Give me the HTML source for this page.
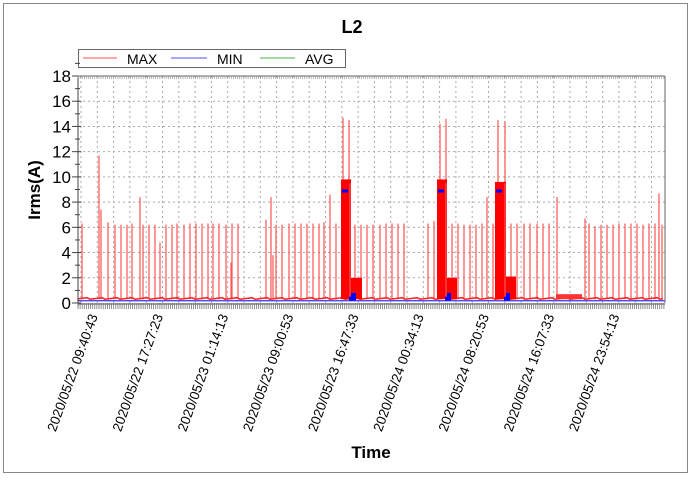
<!DOCTYPE html>
<html><head><style>
body{margin:0;background:#fff;width:691px;height:478px;overflow:hidden;font-family:"Liberation Sans",Arial,sans-serif}
</style></head><body>
<svg id="s" width="691" height="478" xmlns="http://www.w3.org/2000/svg" font-family="Liberation Sans, Arial, sans-serif">
<rect x="0" y="0" width="691" height="478" fill="#fff"/>
<rect x="3.5" y="3.5" width="684" height="469" fill="none" stroke="#888" stroke-width="1"/>
<text x="352" y="33" font-size="18" font-weight="bold" text-anchor="middle">L2</text>
<rect x="78.5" y="49.5" width="267" height="18" fill="#fff" stroke="#666"/>
<line x1="83" y1="58" x2="117" y2="58" stroke="#f88" stroke-width="1.5"/>
<text x="127" y="64" font-size="14">MAX</text>
<line x1="171" y1="58" x2="207" y2="58" stroke="#88f" stroke-width="1.5"/>
<text x="217" y="64" font-size="14">MIN</text>
<line x1="260" y1="58" x2="295" y2="58" stroke="#8c8" stroke-width="1.5"/>
<text x="305" y="64" font-size="14">AVG</text>
<g id="grid"></g>
<g id="data"></g>
<g id="axes"></g>
<text transform="translate(40,190) rotate(-90)" font-size="17" font-weight="bold" text-anchor="middle">Irms(A)</text>
<text x="371" y="458" font-size="17" font-weight="bold" text-anchor="middle">Time</text>
</svg>
<script>
var NS="http://www.w3.org/2000/svg";
function el(p,t,a){var e=document.createElementNS(NS,t);for(var k in a)e.setAttribute(k,a[k]);document.getElementById(p).appendChild(e);return e;}
var L=78,R=665,T=76,B=303;function Y(v){return B-v*(B-T)/18;}
for(var v=2;v<=18;v+=2)el("grid","line",{x1:L,x2:R,y1:Y(v),y2:Y(v),stroke:"#aaa","stroke-dasharray":"2,3","stroke-width":1});
for(var x=81;x<R;x+=16.3)el("grid","line",{x1:x,x2:x,y1:T,y2:B,stroke:"#aaa","stroke-dasharray":"2,3","stroke-width":1});
for(var v=0;v<=18;v+=2){var t=el("axes","text",{x:71,y:Y(v)+6,"font-size":17,"text-anchor":"end"});t.textContent=v;
 el("axes","line",{x1:L-6,x2:L+3,y1:Y(v),y2:Y(v),stroke:"#444"});
 el("axes","line",{x1:L-3,x2:L+2,y1:Y(v+1),y2:Y(v+1),stroke:"#444"});}
el("axes","line",{x1:L,x2:L,y1:T,y2:B+4,stroke:"#444"});
el("axes","line",{x1:R,x2:R,y1:T,y2:B,stroke:"#666"});
el("axes","line",{x1:L,x2:R,y1:T,y2:T,stroke:"#666"});
el("axes","line",{x1:L,x2:R,y1:B+1,y2:B+1,stroke:"#444"});
for(var x=L;x<R;x+=2.1){el("axes","line",{x1:x,x2:x,y1:B,y2:B+6,stroke:"#777","stroke-width":0.8});el("axes","line",{x1:x,x2:x,y1:T,y2:T+3,stroke:"#888","stroke-width":0.6});}
var labs=["2020/05/22  09:40:43","2020/05/22  17:27:23","2020/05/23  01:14:13","2020/05/23  09:00:53","2020/05/23  16:47:33","2020/05/24  00:34:13","2020/05/24  08:20:53","2020/05/24  16:07:33","2020/05/24  23:54:13"];
for(var i=0;i<labs.length;i++){var x=98+i*65.2;var t=el("axes","text",{transform:"translate("+x+",316) rotate(-70)","font-size":13.5,"text-anchor":"end","xml:space":"preserve"});t.textContent=labs[i];}
var spikes=[[82,6.3],[99,11.7],[101,7.4],[108,6.4],[115,6.2],[121,6.2],[127,6.2],[132,6.3],[140,8.4],[143,6.2],[149,6.2],[155,6.2],[160,4.8],[166,6.2],[172,6.2],[177,6.3],[184,6.2],[190,6.3],[196,6.3],[202,6.3],[208,6.3],[213,6.3],[219,6.3],[226,6.2],[231,3.2],[232,6.3],[238,6.3],[266,6.6],[271,8.4],[273,3.8],[276,6.2],[282,6.2],[289,6.3],[295,6.3],[301,6.3],[307,6.3],[313,6.3],[319,6.3],[324,6.4],[330,8.6],[336,6.3],[343,14.7],[349,14.5],[355,6.2],[361,6.2],[367,6.2],[373,6.2],[380,6.2],[386,6.3],[392,6.3],[398,6.3],[404,6.3],[428,6.3],[434,6.5],[440,14.2],[446,14.6],[452,6.3],[458,6.3],[464,6.2],[470,6.2],[476,6.2],[482,6.3],[487,8.4],[493,6.3],[498,14.5],[505,14.4],[511,6.3],[517,6.3],[524,6.3],[530,6.3],[537,6.3],[543,6.3],[549,6.3],[557,8.4],[585,6.7],[589,6.3],[595,6.1],[601,6.2],[607,6.2],[613,6.2],[619,6.3],[625,6.3],[631,6.3],[637,6.3],[643,6.2],[649,6.3],[655,6.3],[659,8.7],[662,6.2]];
var d="";
for(var i=0;i<spikes.length;i++){var s=spikes[i];d+="M"+s[0]+","+Y(0.3)+"V"+Y(s[1]);}
el("data","path",{d:d,stroke:"#f55","stroke-width":1.2,fill:"none"});
var bl="M"+L+","+Y(0.35);for(var x=L;x<R;x+=3)bl+="L"+x+","+Y(0.3+((x*7)%5)*0.03);
el("data","path",{d:bl,stroke:"#f22","stroke-width":1.5,fill:"none"});
el("data","path",{d:"M"+L+","+Y(0.18)+"H"+R,stroke:"#33f","stroke-width":1.3,fill:"none"});
el("data","rect",{x:556,y:Y(0.7),width:26,height:Y(0.3)-Y(0.7),fill:"#f33"});
function block(x0,x1,x2,hi,lo){
 el("data","rect",{x:x0,y:Y(hi),width:x1-x0,height:Y(0.3)-Y(hi),fill:"#f00"});
 el("data","rect",{x:x1,y:Y(lo),width:x2-x1,height:Y(0.3)-Y(lo),fill:"#f00"});
 el("data","rect",{x:x0+1,y:Y(9.0),width:6,height:3,fill:"#00f"});
 el("data","rect",{x:x1-2,y:Y(0.8),width:x2-x1-4,height:Y(0.2)-Y(0.8),fill:"#00f"});
 el("data","line",{x1:x1-1,x2:x1-1,y1:Y(9.5),y2:Y(0.5),stroke:"#f33","stroke-width":2});
}
block(341,351,362,9.8,2.0);
block(437,447,457,9.8,2.0);
block(495,506,516,9.6,2.1);
</script>
</body></html>
